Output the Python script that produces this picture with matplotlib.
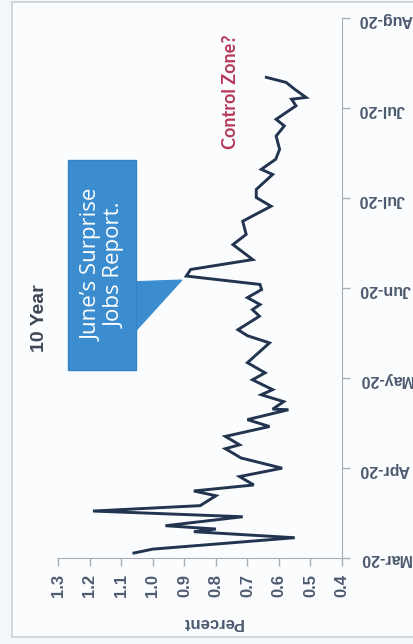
import matplotlib
matplotlib.use("Agg")
import matplotlib.pyplot as plt
from matplotlib.patches import Rectangle, Polygon

# 10 year yield, days counted from the first date tick
days = [1.5, 2.8, 6.6, 8.6, 9.5, 10.6, 13.6, 15.5, 17.3, 20.6,
        22.2, 24.2, 27.0, 29.8, 33.2, 36.3, 37.6, 40.4, 43.7, 46.0, 49.3,
        49.5, 52.0, 54.3, 56.0, 59.3, 61.6, 65.0, 71.6, 74.0, 76.0, 80.5,
        82.7, 84.4, 86.7, 89.4, 91.1, 93.9, 96.1, 99.4, 104.4, 107.8,
        112.2, 117.2, 120.1, 122.8, 127.8, 129.5, 132.9, 136.2, 140.6, 144.0,
        146.2, 150.7, 152.9, 153.5, 156.3, 158.5, 160.2]
yield_pct = [1.06, 1.00, 0.55, 0.87, 0.80, 0.96, 0.715, 1.19, 0.85, 0.80,
             0.87, 0.68, 0.725, 0.59, 0.72, 0.77, 0.725, 0.77, 0.63, 0.70, 0.57,
             0.62, 0.585, 0.656, 0.62, 0.684, 0.644, 0.70, 0.63, 0.70, 0.73, 0.662,
             0.684, 0.66, 0.70, 0.655, 0.66, 0.894, 0.88, 0.683, 0.746, 0.704,
             0.715, 0.625, 0.672, 0.672, 0.62, 0.656, 0.61, 0.598, 0.609, 0.583,
             0.609, 0.546, 0.56, 0.514, 0.551, 0.577, 0.64]

date_ticks = [0, 30, 60, 90, 120, 150, 180]
date_labels = ["Mar-20", "Apr-20", "May-20", "Jun-20", "Jul-20", "Jul-20", "Aug-20"]
pct_ticks = [1.3, 1.2, 1.1, 1.0, 0.9, 0.8, 0.7, 0.6, 0.5, 0.4]

W, H = 414, 644


def fx(px):
    return px / W


def fy(py):
    return 1 - py / H


fig = plt.figure(figsize=(W / 100, H / 100), dpi=100, facecolor="#f4f7fa")

# outer frame of the chart, kept behind the axes
frame = Rectangle((fx(12), fy(637)), fx(420) - fx(12), fy(2) - fy(637),
                  transform=fig.transFigure, facecolor="#fbfcfd",
                  edgecolor="#c9d0d8", linewidth=1.2, zorder=-10)
fig.add_artist(frame)

ax = fig.add_axes([fx(58.3), fy(557.5), fx(342) - fx(58.3), fy(18) - fy(557.5)])
ax.set_facecolor("none")

ax.plot(yield_pct, days, color="#22344f", linewidth=2.1, solid_joinstyle="miter")

ax.set_xlim(1.3, 0.4)
ax.set_ylim(0, 180)
ax.set_xticks(pct_ticks)
ax.set_xticklabels(["%.1f" % v for v in pct_ticks], rotation=90,
                   fontsize=12, fontweight="bold", family="Liberation Sans",
                   color="#4d5b70")
ax.yaxis.tick_right()
ax.set_yticks(date_ticks)
ax.set_yticklabels(date_labels, rotation=180, fontsize=11.5, fontweight="bold",
                   family="Liberation Sans", color="#4d5b70")
ax.tick_params(axis="both", direction="out", length=6, width=1, color="#a8adb3", pad=6)

for side in ["top", "left"]:
    ax.spines[side].set_visible(False)
ax.spines["bottom"].set_color("#a8adb3")
ax.spines["right"].set_color("#a8adb3")

fig.text(fx(212), fy(623), "Percent", rotation=180, ha="center", va="center",
         fontsize=12, fontweight="bold", family="Liberation Sans", color="#4d5b70")

fig.text(fx(40), fy(318), "10 Year", rotation=90, ha="center", va="center",
         fontsize=14, fontweight="bold", family="Liberation Sans", color="#3d4654")

fig.text(fx(231), fy(92), "Control Zone?", rotation=90, ha="center", va="center",
         fontsize=13, fontweight="bold", family="Lato", color="#b5395a")

# callout box pointing at the June jump
box_color = "#3b8dd0"
fig.add_artist(Polygon([(fx(135), fy(281.7)), (fx(182), fy(280)), (fx(135), fy(331.7))],
                       closed=True, transform=fig.transFigure,
                       facecolor=box_color, edgecolor=box_color, linewidth=0.8))
fig.add_artist(Rectangle((fx(68), fy(370)), fx(136) - fx(68), fy(160) - fy(370),
                         transform=fig.transFigure, facecolor=box_color,
                         edgecolor="#3283c4", linewidth=1))
fig.text(fx(104), fy(265), "June\u2019s Surprise\nJobs Report.", rotation=90,
         ha="center", va="center", multialignment="center", linespacing=1.15,
         fontsize=16, family="Open Sans", color="white")

fig.savefig("out.png", dpi=100, facecolor=fig.get_facecolor())
